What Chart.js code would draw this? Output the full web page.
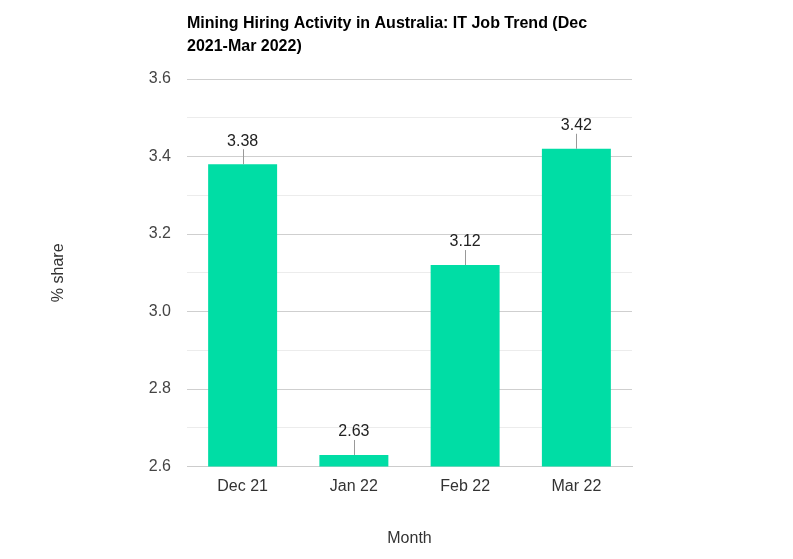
<!DOCTYPE html>
<html>
<head>
<meta charset="utf-8">
<script src="https://cdn.jsdelivr.net/npm/chart.js@4.4.1/dist/chart.umd.min.js"></script>
<style>
  html, body { margin: 0; padding: 0; background: #fff; }
  #wrap { width: 793px; height: 559px; }
</style>
</head>
<body>
<div id="wrap"><canvas id="bar-chart"></canvas></div>
<script>
const months = ['Dec 21', 'Jan 22', 'Feb 22', 'Mar 22'];
const shares = [3.38, 2.63, 3.12, 3.42];
const titleLines = ['Mining Hiring Activity in Australia: IT Job Trend (Dec', '2021-Mar 2022)'];

const fontFamily = "'Liberation Sans', Arial, sans-serif";

// title drawn at the chart area's left edge, like the reference
const titlePlugin = {
  id: 'leftTitle',
  afterDraw(chart) {
    const ctx = chart.ctx;
    ctx.save();
    ctx.fillStyle = '#000';
    ctx.font = 'bold 16px ' + fontFamily;
    ctx.textAlign = 'left';
    ctx.textBaseline = 'alphabetic';
    titleLines.forEach((line, i) => {
      ctx.fillText(line, chart.chartArea.left, 28 + i * 23);
    });
    ctx.restore();
  }
};

// value labels with a short leader line above each bar
const valueLabels = {
  id: 'valueLabels',
  afterDatasetsDraw(chart) {
    const ctx = chart.ctx;
    const meta = chart.getDatasetMeta(0);
    ctx.save();
    meta.data.forEach((bar, i) => {
      ctx.strokeStyle = '#999';
      ctx.lineWidth = 1;
      ctx.beginPath();
      ctx.moveTo(Math.round(bar.x) + 0.5, bar.y);
      ctx.lineTo(Math.round(bar.x) + 0.5, bar.y - 15);
      ctx.stroke();
      ctx.fillStyle = '#222';
      ctx.font = '16px ' + fontFamily;
      ctx.textAlign = 'center';
      ctx.textBaseline = 'bottom';
      ctx.fillText(shares[i].toFixed(2), bar.x, bar.y - 15);
    });
    ctx.restore();
  }
};

const ctx = document.getElementById('bar-chart').getContext('2d');

new Chart(ctx, {
  type: 'bar',
  data: {
    labels: months,
    datasets: [{
      label: '% share',
      data: shares,
      backgroundColor: '#00dda5',
      borderWidth: 0,
      barPercentage: 0.62,
      categoryPercentage: 1.0
    }]
  },
  options: {
    responsive: true,
    maintainAspectRatio: false,
    animation: false,
    layout: { padding: { top: 79, left: 45, right: 161, bottom: 7 } },
    plugins: {
      legend: { display: false },
      tooltip: { enabled: false },
      title: { display: false }
    },
    scales: {
      x: {
        grid: { display: false, drawTicks: false },
        border: { display: true, color: '#ccc' },
        ticks: { color: '#333', font: { size: 16, family: fontFamily }, padding: 10 },
        title: { display: true, text: 'Month', color: '#333', font: { size: 16, family: fontFamily }, padding: { top: 23 } }
      },
      y: {
        min: 2.6,
        max: 3.6,
        afterFit(scale) { scale.width = 142; },
        grid: {
          drawTicks: false,
          color: c => (Math.round(c.tick.value * 10) % 2 === 0 ? '#cfcfcf' : '#ececec')
        },
        border: { display: false },
        ticks: {
          stepSize: 0.1,
          padding: 16,
          color: '#444',
          font: { size: 16, family: fontFamily },
          callback: v => (Math.round(v * 10) % 2 === 0 ? Number(v).toFixed(1) : '')
        },
        title: { display: true, text: '% share', color: '#333', font: { size: 16, family: fontFamily } }
      }
    }
  },
  plugins: [titlePlugin, valueLabels]
});
</script>
</body>
</html>
